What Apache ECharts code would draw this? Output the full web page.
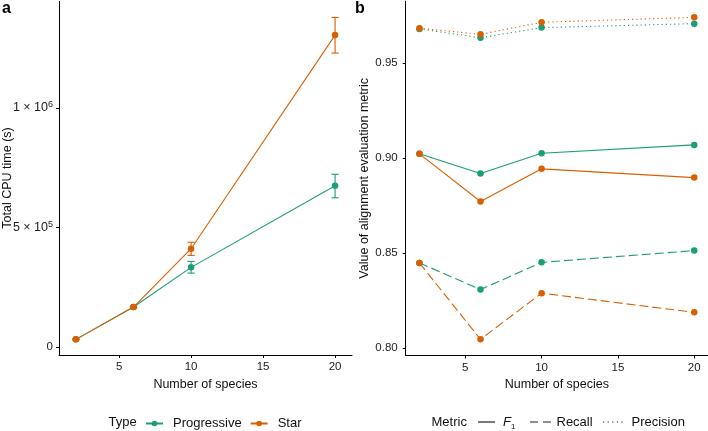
<!DOCTYPE html>
<html><head><meta charset="utf-8">
<script src="https://cdn.jsdelivr.net/npm/echarts@6/dist/echarts.min.js"></script>
<style>html,body{margin:0;padding:0;background:#fff}#c{width:708px;height:431px}</style>
</head><body><div id="c"></div>
<script>
// ---- data ----
const species = [2, 6, 10, 20];
const cpuProgressive   = [32000, 167000, 333000, 674000];
const cpuProgressiveLo = [30500, 163000, 309000, 624000];
const cpuProgressiveHi = [33500, 171000, 358000, 722000];
const cpuStar   = [32000, 167000, 411000, 1304000];
const cpuStarLo = [30500, 163000, 383000, 1229000];
const cpuStarHi = [33500, 171000, 438000, 1378000];

const f1Progressive        = [0.9023, 0.8919, 0.9026, 0.9070];
const f1Star               = [0.9023, 0.8772, 0.8944, 0.8898];
const recallProgressive    = [0.8449, 0.8309, 0.8452, 0.8514];
const recallStar           = [0.8449, 0.8047, 0.8290, 0.8189];
const precisionProgressive = [0.9680, 0.9634, 0.9687, 0.9708];
const precisionStar        = [0.9684, 0.9652, 0.9715, 0.9741];

const xTicks = [5, 10, 15, 20];
const cpuTicks = [0, 500000, 1000000];
const metricTicks = [0.80, 0.85, 0.90, 0.95];
const typeNames = ['Progressive', 'Star'];
const metricNames = ['F1', 'Recall', 'Precision'];

// ---- styles ----
const GREEN = '#1b9e77', ORANGE = '#d95f02';
const FONT = '"Liberation Sans", Arial, Helvetica, sans-serif';
const TICK = '#222';
const TXT = '#111';

const zip = (xs, ys) => xs.map((x, i) => [x, ys[i]]);

function xAxisCfg(gi, min, max) {
  return {
    gridIndex: gi, type: 'value', min: min, max: max,
    name: 'Number of species', nameLocation: 'middle', nameGap: 20,
    nameTextStyle: {fontFamily: FONT, fontSize: 12.5, color: TXT},
    axisLine: {show: true, onZero: false, lineStyle: {color: '#000', width: 1}},
    axisTick: {show: true, length: 3, customValues: xTicks, lineStyle: {color: '#000'}},
    axisLabel: {customValues: xTicks, margin: 6, fontFamily: FONT, fontSize: 11.5, color: TICK},
    splitLine: {show: false}
  };
}

function supLabel(v) {
  if (v === 0) return '0';
  const e = Math.floor(Math.log10(v));
  const m = Math.round(v / Math.pow(10, e));
  return '{b|' + m + ' × 10}{s|' + e + '}';
}

const option = {
  animation: false,
  backgroundColor: '#fff',
  grid: [
    {left: 59, top: 1.4, width: 293, height: 353.6, outerBoundsMode: 'none', containLabel: false},
    {left: 405.7, top: 1.2, width: 302.3, height: 354.3, outerBoundsMode: 'none', containLabel: false}
  ],
  xAxis: [xAxisCfg(0, 0.825, 21.175), xAxisCfg(1, 1.1, 20.9)],
  yAxis: [
    {
      gridIndex: 0, type: 'value', min: -33400, max: 1445000,
      axisLine: {show: true, onZero: false, lineStyle: {color: '#000', width: 1}},
      axisTick: {show: true, length: 3, customValues: cpuTicks, lineStyle: {color: '#000'}},
      axisLabel: {
        customValues: cpuTicks, margin: 6, color: TICK, fontFamily: FONT, fontSize: 11.5,
        formatter: supLabel,
        rich: {
          b: {fontFamily: FONT, fontSize: 12.5, color: TICK, lineHeight: 15},
          s: {fontFamily: FONT, fontSize: 9, color: TICK, verticalAlign: 'top', lineHeight: 15}
        }
      },
      splitLine: {show: false}
    },
    {
      gridIndex: 1, type: 'value', min: 0.7962, max: 0.9826,
      name: 'Value of alignment evaluation metric', nameLocation: 'middle', nameGap: 35,
      nameTextStyle: {fontFamily: FONT, fontSize: 12.5, color: TXT},
      axisLine: {show: true, onZero: false, lineStyle: {color: '#000', width: 1}},
      axisTick: {show: true, length: 3, customValues: metricTicks, lineStyle: {color: '#000'}},
      axisLabel: {customValues: metricTicks, margin: 8, fontFamily: FONT, fontSize: 11.5, color: TICK,
        formatter: v => v.toFixed(2)},
      splitLine: {show: false}
    }
  ],
  legend: [
    {
      data: typeNames, left: 140, top: 412, itemWidth: 17, itemHeight: 7, itemGap: 8,
      textStyle: {fontFamily: FONT, fontSize: 13, color: TXT, padding: [0, 0, 0, 5]},
      selectedMode: false
    }
  ],
  graphic: [
    {type: 'text', left: 2, top: 1, style: {text: 'a', font: 'bold 16px ' + FONT, fill: '#000'}},
    {type: 'text', left: 355, top: 1, style: {text: 'b', font: 'bold 16px ' + FONT, fill: '#000'}},
    {type: 'text', x: 8, y: 178, rotation: Math.PI / 2,
      style: {text: 'Total CPU time (s)', font: '12.5px ' + FONT, fill: TXT, align: 'center', verticalAlign: 'middle'}},
    {type: 'text', x: 108.5, y: 422, style: {text: 'Type', font: '13px ' + FONT, fill: TXT, verticalAlign: 'middle'}},
    {type: 'text', x: 431.5, y: 422, style: {text: 'Metric', font: '13px ' + FONT, fill: TXT, verticalAlign: 'middle'}},
    // metric key lines
    {type: 'line', shape: {x1: 478, y1: 422, x2: 495, y2: 422}, style: {stroke: '#222', lineWidth: 1.2}},
    {type: 'line', shape: {x1: 530, y1: 422, x2: 551, y2: 422}, style: {stroke: '#222', lineWidth: 1.2, lineDash: [8, 5]}},
    {type: 'line', shape: {x1: 603, y1: 422, x2: 626, y2: 422}, style: {stroke: '#222', lineWidth: 1.2, lineDash: [1.2, 3.4]}},
    {type: 'text', x: 503, y: 422, style: {
      text: '{i|F}{sub|1}', verticalAlign: 'middle',
      rich: {
        i: {font: 'italic 13px ' + FONT, fill: TXT, lineHeight: 18},
        sub: {font: '8px ' + FONT, fill: TXT, verticalAlign: 'bottom', lineHeight: 18}
      }}},
    {type: 'text', x: 556.5, y: 422, style: {text: 'Recall', font: '13px ' + FONT, fill: TXT, verticalAlign: 'middle'}},
    {type: 'text', x: 631.5, y: 422, style: {text: 'Precision', font: '13px ' + FONT, fill: TXT, verticalAlign: 'middle'}}
  ],
  series: []
};

function errSeries(name, color, lo, hi) {
  return {
    type: 'custom', name: name + ' err', xAxisIndex: 0, yAxisIndex: 0, silent: true,
    data: species.map((x, i) => [x, lo[i], hi[i]]),
    encode: {x: 0, y: [1, 2]},
    renderItem: function (params, api) {
      const x = api.value(0);
      const pLo = api.coord([x, api.value(1)]);
      const pHi = api.coord([x, api.value(2)]);
      const hw = api.size([0.5, 0])[0] / 2;
      const st = {stroke: color, lineWidth: 1.1};
      return {type: 'group', children: [
        {type: 'line', shape: {x1: pLo[0], y1: pLo[1], x2: pHi[0], y2: pHi[1]}, style: st},
        {type: 'line', shape: {x1: pLo[0] - hw, y1: pLo[1], x2: pLo[0] + hw, y2: pLo[1]}, style: st},
        {type: 'line', shape: {x1: pHi[0] - hw, y1: pHi[1], x2: pHi[0] + hw, y2: pHi[1]}, style: st}
      ]};
    },
    z: 2
  };
}

function lineS(color, vals, xi, type, legendName) {
  return {
    type: 'line', name: legendName, xAxisIndex: xi, yAxisIndex: xi,
    data: zip(species, vals), symbol: 'circle', symbolSize: 6.5,
    itemStyle: {color: color}, lineStyle: {color: color, width: 1.1, type: type},
    z: 3, silent: true
  };
}

option.series.push(errSeries('Progressive', GREEN, cpuProgressiveLo, cpuProgressiveHi));
option.series.push(lineS(GREEN, cpuProgressive, 0, 'solid', 'Progressive'));
option.series.push(errSeries('Star', ORANGE, cpuStarLo, cpuStarHi));
option.series.push(lineS(ORANGE, cpuStar, 0, 'solid', 'Star'));

const dashT = {solid: 'solid', dashed: [9, 4], dotted: [1.2, 3]};
const metricSets = [
  ['solid', f1Progressive, f1Star],
  ['dashed', recallProgressive, recallStar],
  ['dotted', precisionProgressive, precisionStar]
];
metricSets.forEach(([t, p, s], i) => {
  option.series.push(lineS(GREEN, p, 1, dashT[t], metricNames[i] + ' Progressive'));
  option.series.push(lineS(ORANGE, s, 1, dashT[t], metricNames[i] + ' Star'));
});

const chart = echarts.init(document.getElementById('c'), null, {renderer: 'canvas'});
chart.setOption(option);
</script>
</body></html>
